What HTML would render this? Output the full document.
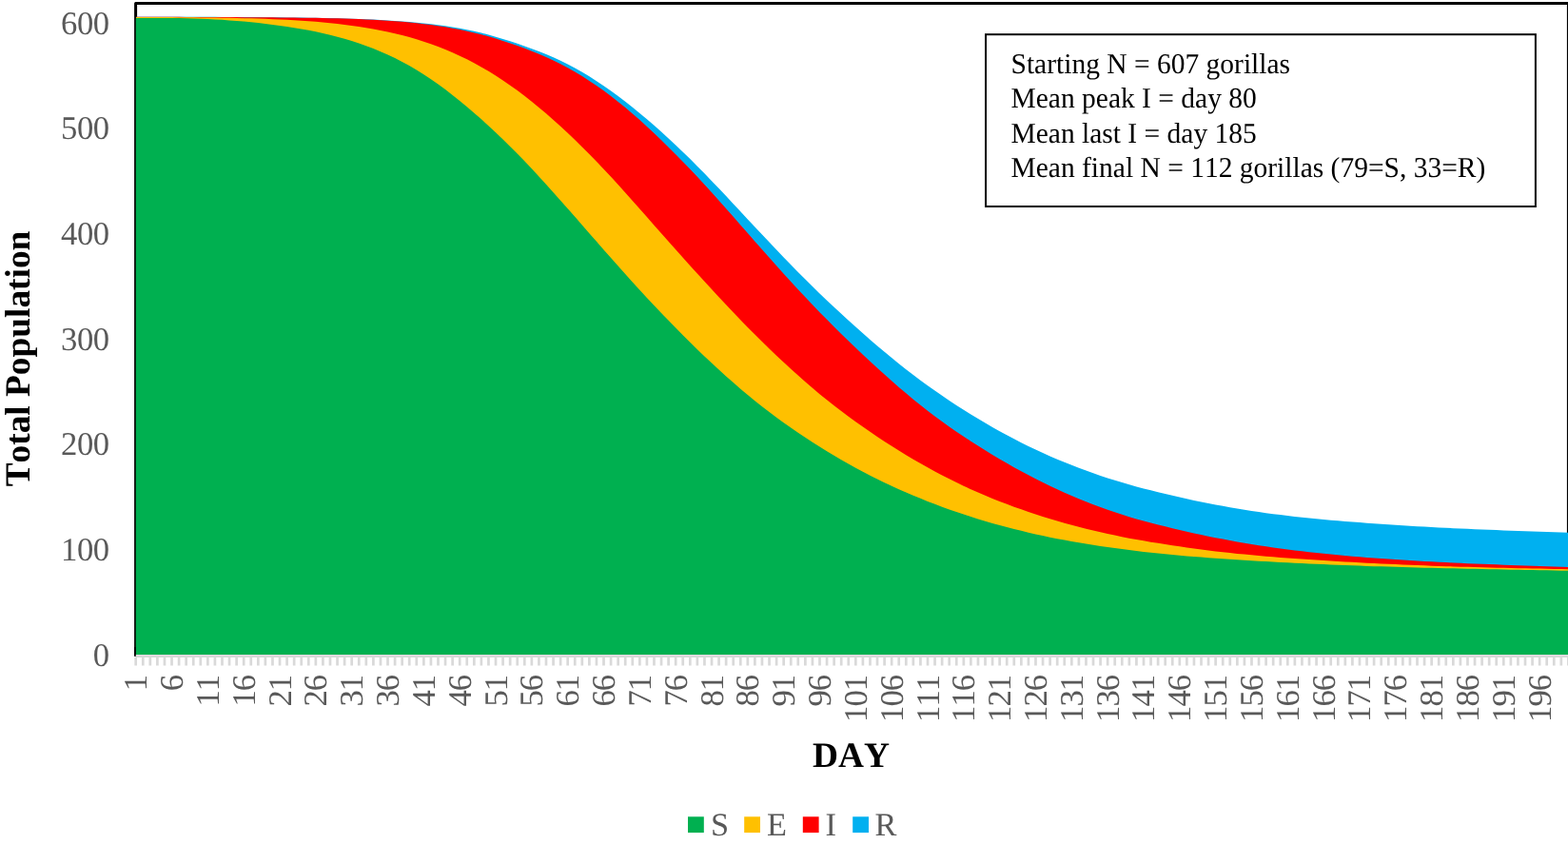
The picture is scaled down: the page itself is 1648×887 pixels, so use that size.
<!DOCTYPE html>
<html lang="en"><head><meta charset="utf-8"><title>SEIR gorilla population chart</title>
<style>html,body{margin:0;padding:0;background:#fff;overflow:hidden}svg{display:block}text{font-family:"Liberation Serif","Times New Roman",serif;font-kerning:none;text-rendering:geometricPrecision;}</style></head><body>
<svg width="1648" height="887" viewBox="0 0 1648 887">
<rect x="0" y="0" width="1648" height="887" fill="#fff"/>
<rect x="142.60" y="3.45" width="1505.80" height="684.85" fill="none" stroke="#000" stroke-width="3.00" stroke-linejoin="round"/>
<clipPath id="plotclip"><rect x="143.00" y="0" width="1520" height="700"/></clipPath>
<g clip-path="url(#plotclip)">
<path d="M139.7,688.9L139.7,17.79L142.70,17.79L150.27,17.79L157.83,17.79L165.40,17.78L172.97,17.78L180.53,17.79L188.10,17.79L195.66,17.80L203.23,17.81L210.80,17.83L218.36,17.85L225.93,17.87L233.50,17.90L241.06,17.94L248.63,17.98L256.19,18.02L263.76,18.07L271.33,18.12L278.89,18.18L286.46,18.24L294.03,18.31L301.59,18.38L309.16,18.46L316.73,18.54L324.29,18.64L331.86,18.75L339.42,18.88L346.99,19.04L354.56,19.21L362.12,19.42L369.69,19.65L377.26,19.92L384.82,20.23L392.39,20.58L399.96,20.97L407.52,21.40L415.09,21.89L422.65,22.44L430.22,23.06L437.79,23.74L445.35,24.50L452.92,25.34L460.49,26.28L468.05,27.32L475.62,28.48L483.18,29.77L490.75,31.21L498.32,32.81L505.88,34.58L513.45,36.52L521.02,38.63L528.58,40.88L536.15,43.27L543.72,45.78L551.28,48.41L558.85,51.16L566.41,54.04L573.98,57.09L581.55,60.34L589.11,63.81L596.68,67.53L604.25,71.52L611.81,75.79L619.38,80.34L626.95,85.15L634.51,90.21L642.08,95.51L649.64,101.04L657.21,106.79L664.78,112.75L672.34,118.90L679.91,125.25L687.48,131.79L695.04,138.51L702.61,145.41L710.17,152.48L717.74,159.72L725.31,167.12L732.87,174.67L740.44,182.35L748.01,190.16L755.57,198.08L763.14,206.11L770.71,214.22L778.27,222.34L785.84,230.45L793.40,238.53L800.97,246.58L808.54,254.59L816.10,262.55L823.67,270.43L831.24,278.24L838.80,285.95L846.37,293.55L853.94,301.03L861.50,308.39L869.07,315.64L876.63,322.78L884.20,329.81L891.77,336.74L899.33,343.57L906.90,350.30L914.47,356.92L922.03,363.42L929.60,369.79L937.16,376.05L944.73,382.17L952.30,388.15L959.86,393.99L967.43,399.68L975.00,405.22L982.56,410.62L990.13,415.87L997.70,420.98L1005.26,425.95L1012.83,430.80L1020.39,435.52L1027.96,440.12L1035.53,444.60L1043.09,448.96L1050.66,453.19L1058.23,457.30L1065.79,461.29L1073.36,465.15L1080.93,468.89L1088.49,472.51L1096.06,476.01L1103.62,479.39L1111.19,482.66L1118.76,485.80L1126.32,488.84L1133.89,491.76L1141.46,494.58L1149.02,497.29L1156.59,499.89L1164.15,502.39L1171.72,504.79L1179.29,507.08L1186.85,509.29L1194.42,511.39L1201.99,513.41L1209.55,515.34L1217.12,517.21L1224.69,519.04L1232.25,520.83L1239.82,522.56L1247.38,524.24L1254.95,525.88L1262.52,527.46L1270.08,528.98L1277.65,530.45L1285.22,531.87L1292.78,533.23L1300.35,534.52L1307.92,535.76L1315.48,536.94L1323.05,538.06L1330.61,539.13L1338.18,540.14L1345.75,541.11L1353.31,542.02L1360.88,542.89L1368.45,543.72L1376.01,544.51L1383.58,545.26L1391.14,545.97L1398.71,546.66L1406.28,547.31L1413.84,547.94L1421.41,548.54L1428.98,549.12L1436.54,549.68L1444.11,550.22L1451.68,550.75L1459.24,551.26L1466.81,551.76L1474.37,552.24L1481.94,552.70L1489.51,553.15L1497.07,553.58L1504.64,554.00L1512.21,554.40L1519.77,554.78L1527.34,555.15L1534.91,555.51L1542.47,555.85L1550.04,556.18L1557.60,556.49L1565.17,556.80L1572.74,557.10L1580.30,557.39L1587.87,557.68L1595.44,557.95L1603.00,558.23L1610.57,558.50L1618.13,558.76L1625.70,559.03L1633.27,559.29L1640.83,559.55L1648.40,559.81L1651.4,559.81L1651.4,688.9Z" fill="#00B0F0"/>
<path d="M139.7,688.9L139.7,17.80L142.70,17.80L150.27,17.81L157.83,17.82L165.40,17.83L172.97,17.84L180.53,17.86L188.10,17.87L195.66,17.89L203.23,17.91L210.80,17.93L218.36,17.96L225.93,17.98L233.50,18.01L241.06,18.05L248.63,18.09L256.19,18.13L263.76,18.17L271.33,18.23L278.89,18.28L286.46,18.34L294.03,18.41L301.59,18.48L309.16,18.56L316.73,18.65L324.29,18.75L331.86,18.86L339.42,19.00L346.99,19.16L354.56,19.35L362.12,19.57L369.69,19.82L377.26,20.11L384.82,20.44L392.39,20.82L399.96,21.24L407.52,21.71L415.09,22.24L422.65,22.84L430.22,23.52L437.79,24.28L445.35,25.14L452.92,26.09L460.49,27.16L468.05,28.34L475.62,29.65L483.18,31.10L490.75,32.68L498.32,34.41L505.88,36.30L513.45,38.34L521.02,40.54L528.58,42.88L536.15,45.38L543.72,48.01L551.28,50.79L558.85,53.72L566.41,56.81L573.98,60.09L581.55,63.58L589.11,67.30L596.68,71.28L604.25,75.53L611.81,80.07L619.38,84.89L626.95,89.99L634.51,95.36L642.08,101.00L649.64,106.90L657.21,113.06L664.78,119.47L672.34,126.11L679.91,132.97L687.48,140.03L695.04,147.27L702.61,154.68L710.17,162.24L717.74,169.93L725.31,177.78L732.87,185.77L740.44,193.92L748.01,202.23L755.57,210.69L763.14,219.25L770.71,227.86L778.27,236.48L785.84,245.10L793.40,253.71L800.97,262.30L808.54,270.86L816.10,279.36L823.67,287.78L831.24,296.09L838.80,304.28L846.37,312.35L853.94,320.30L861.50,328.14L869.07,335.87L876.63,343.50L884.20,351.00L891.77,358.36L899.33,365.58L906.90,372.69L914.47,379.72L922.03,386.69L929.60,393.56L937.16,400.32L944.73,406.92L952.30,413.35L959.86,419.63L967.43,425.73L975.00,431.67L982.56,437.43L990.13,443.01L997.70,448.42L1005.26,453.66L1012.83,458.75L1020.39,463.73L1027.96,468.59L1035.53,473.33L1043.09,477.96L1050.66,482.47L1058.23,486.87L1065.79,491.15L1073.36,495.30L1080.93,499.34L1088.49,503.26L1096.06,507.05L1103.62,510.73L1111.19,514.28L1118.76,517.70L1126.32,521.01L1133.89,524.19L1141.46,527.26L1149.02,530.20L1156.59,533.02L1164.15,535.73L1171.72,538.32L1179.29,540.79L1186.85,543.14L1194.42,545.38L1201.99,547.50L1209.55,549.52L1217.12,551.47L1224.69,553.37L1232.25,555.21L1239.82,557.00L1247.38,558.74L1254.95,560.43L1262.52,562.06L1270.08,563.63L1277.65,565.16L1285.22,566.62L1292.78,568.04L1300.35,569.40L1307.92,570.71L1315.48,571.96L1323.05,573.16L1330.61,574.30L1338.18,575.40L1345.75,576.45L1353.31,577.46L1360.88,578.42L1368.45,579.34L1376.01,580.22L1383.58,581.05L1391.14,581.85L1398.71,582.61L1406.28,583.34L1413.84,584.04L1421.41,584.70L1428.98,585.33L1436.54,585.94L1444.11,586.52L1451.68,587.07L1459.24,587.60L1466.81,588.10L1474.37,588.59L1481.94,589.05L1489.51,589.49L1497.07,589.92L1504.64,590.32L1512.21,590.71L1519.77,591.09L1527.34,591.45L1534.91,591.79L1542.47,592.13L1550.04,592.45L1557.60,592.76L1565.17,593.05L1572.74,593.34L1580.30,593.63L1587.87,593.90L1595.44,594.17L1603.00,594.43L1610.57,594.68L1618.13,594.93L1625.70,595.18L1633.27,595.42L1640.83,595.67L1648.40,595.91L1651.4,595.91L1651.4,688.9Z" fill="#FF0000"/>
<path d="M139.7,688.9L139.7,17.89L142.70,17.89L150.27,17.93L157.83,17.98L165.40,18.02L172.97,18.07L180.53,18.12L188.10,18.18L195.66,18.24L203.23,18.31L210.80,18.38L218.36,18.47L225.93,18.57L233.50,18.68L241.06,18.81L248.63,18.97L256.19,19.14L263.76,19.34L271.33,19.57L278.89,19.84L286.46,20.13L294.03,20.46L301.59,20.84L309.16,21.25L316.73,21.71L324.29,22.23L331.86,22.81L339.42,23.46L346.99,24.19L354.56,25.00L362.12,25.89L369.69,26.89L377.26,27.98L384.82,29.18L392.39,30.50L399.96,31.94L407.52,33.51L415.09,35.22L422.65,37.08L430.22,39.10L437.79,41.29L445.35,43.67L452.92,46.24L460.49,49.01L468.05,51.99L475.62,55.19L483.18,58.63L490.75,62.30L498.32,66.23L505.88,70.41L513.45,74.84L521.02,79.54L528.58,84.48L536.15,89.67L543.72,95.11L551.28,100.79L558.85,106.72L566.41,112.88L573.98,119.27L581.55,125.89L589.11,132.73L596.68,139.77L604.25,147.01L611.81,154.44L619.38,162.05L626.95,169.83L634.51,177.77L642.08,185.85L649.64,194.07L657.21,202.42L664.78,210.88L672.34,219.42L679.91,228.02L687.48,236.64L695.04,245.25L702.61,253.81L710.17,262.32L717.74,270.77L725.31,279.18L732.87,287.54L740.44,295.84L748.01,304.07L755.57,312.23L763.14,320.29L770.71,328.27L778.27,336.13L785.84,343.89L793.40,351.53L800.97,359.05L808.54,366.43L816.10,373.69L823.67,380.81L831.24,387.79L838.80,394.62L846.37,401.29L853.94,407.81L861.50,414.15L869.07,420.31L876.63,426.27L884.20,432.06L891.77,437.70L899.33,443.21L906.90,448.59L914.47,453.85L922.03,458.97L929.60,463.98L937.16,468.85L944.73,473.60L952.30,478.23L959.86,482.73L967.43,487.10L975.00,491.34L982.56,495.46L990.13,499.45L997.70,503.32L1005.26,507.06L1012.83,510.68L1020.39,514.17L1027.96,517.54L1035.53,520.79L1043.09,523.92L1050.66,526.94L1058.23,529.85L1065.79,532.65L1073.36,535.36L1080.93,537.97L1088.49,540.48L1096.06,542.90L1103.62,545.24L1111.19,547.49L1118.76,549.66L1126.32,551.74L1133.89,553.75L1141.46,555.68L1149.02,557.52L1156.59,559.29L1164.15,560.99L1171.72,562.61L1179.29,564.15L1186.85,565.63L1194.42,567.03L1201.99,568.36L1209.55,569.63L1217.12,570.86L1224.69,572.06L1232.25,573.22L1239.82,574.36L1247.38,575.45L1254.95,576.51L1262.52,577.52L1270.08,578.49L1277.65,579.41L1285.22,580.28L1292.78,581.11L1300.35,581.88L1307.92,582.61L1315.48,583.32L1323.05,584.00L1330.61,584.66L1338.18,585.29L1345.75,585.89L1353.31,586.47L1360.88,587.04L1368.45,587.58L1376.01,588.10L1383.58,588.60L1391.14,589.08L1398.71,589.54L1406.28,589.99L1413.84,590.42L1421.41,590.84L1428.98,591.25L1436.54,591.64L1444.11,592.02L1451.68,592.39L1459.24,592.74L1466.81,593.09L1474.37,593.42L1481.94,593.74L1489.51,594.05L1497.07,594.34L1504.64,594.63L1512.21,594.90L1519.77,595.15L1527.34,595.40L1534.91,595.63L1542.47,595.85L1550.04,596.06L1557.60,596.26L1565.17,596.46L1572.74,596.64L1580.30,596.82L1587.87,596.99L1595.44,597.16L1603.00,597.32L1610.57,597.47L1618.13,597.62L1625.70,597.77L1633.27,597.92L1640.83,598.06L1648.40,598.21L1651.4,598.21L1651.4,688.9Z" fill="#FFC000"/>
<path d="M139.7,688.9L139.7,18.91L142.70,18.91L150.27,18.90L157.83,18.90L165.40,18.91L172.97,18.94L180.53,19.01L188.10,19.11L195.66,19.26L203.23,19.46L210.80,19.72L218.36,20.04L225.93,20.42L233.50,20.87L241.06,21.38L248.63,21.95L256.19,22.60L263.76,23.32L271.33,24.11L278.89,24.97L286.46,25.91L294.03,26.92L301.59,28.02L309.16,29.20L316.73,30.48L324.29,31.86L331.86,33.36L339.42,34.99L346.99,36.77L354.56,38.70L362.12,40.80L369.69,43.07L377.26,45.53L384.82,48.20L392.39,51.08L399.96,54.19L407.52,57.53L415.09,61.12L422.65,64.98L430.22,69.10L437.79,73.51L445.35,78.21L452.92,83.21L460.49,88.52L468.05,94.10L475.62,99.93L483.18,105.98L490.75,112.22L498.32,118.65L505.88,125.28L513.45,132.13L521.02,139.18L528.58,146.43L536.15,153.88L543.72,161.52L551.28,169.35L558.85,177.35L566.41,185.50L573.98,193.78L581.55,202.17L589.11,210.66L596.68,219.22L604.25,227.84L611.81,236.49L619.38,245.15L626.95,253.81L634.51,262.45L642.08,271.06L649.64,279.61L657.21,288.09L664.78,296.49L672.34,304.79L679.91,312.97L687.48,321.04L695.04,329.00L702.61,336.86L710.17,344.61L717.74,352.26L725.31,359.78L732.87,367.18L740.44,374.46L748.01,381.59L755.57,388.58L763.14,395.43L770.71,402.11L778.27,408.64L785.84,414.99L793.40,421.17L800.97,427.17L808.54,433.00L816.10,438.67L823.67,444.18L831.24,449.55L838.80,454.78L846.37,459.87L853.94,464.81L861.50,469.62L869.07,474.30L876.63,478.84L884.20,483.25L891.77,487.54L899.33,491.70L906.90,495.73L914.47,499.65L922.03,503.45L929.60,507.13L937.16,510.69L944.73,514.15L952.30,517.49L959.86,520.73L967.43,523.86L975.00,526.89L982.56,529.82L990.13,532.65L997.70,535.38L1005.26,538.02L1012.83,540.57L1020.39,543.02L1027.96,545.39L1035.53,547.68L1043.09,549.88L1050.66,551.99L1058.23,554.03L1065.79,555.99L1073.36,557.87L1080.93,559.67L1088.49,561.40L1096.06,563.06L1103.62,564.64L1111.19,566.16L1118.76,567.61L1126.32,568.99L1133.89,570.32L1141.46,571.59L1149.02,572.79L1156.59,573.95L1164.15,575.05L1171.72,576.11L1179.29,577.12L1186.85,578.08L1194.42,579.01L1201.99,579.89L1209.55,580.74L1217.12,581.54L1224.69,582.31L1232.25,583.04L1239.82,583.73L1247.38,584.39L1254.95,585.02L1262.52,585.62L1270.08,586.19L1277.65,586.74L1285.22,587.27L1292.78,587.78L1300.35,588.27L1307.92,588.74L1315.48,589.21L1323.05,589.65L1330.61,590.09L1338.18,590.51L1345.75,590.92L1353.31,591.32L1360.88,591.70L1368.45,592.07L1376.01,592.43L1383.58,592.78L1391.14,593.12L1398.71,593.44L1406.28,593.75L1413.84,594.05L1421.41,594.34L1428.98,594.61L1436.54,594.88L1444.11,595.13L1451.68,595.37L1459.24,595.60L1466.81,595.83L1474.37,596.04L1481.94,596.25L1489.51,596.45L1497.07,596.64L1504.64,596.83L1512.21,597.01L1519.77,597.19L1527.34,597.36L1534.91,597.53L1542.47,597.70L1550.04,597.86L1557.60,598.03L1565.17,598.18L1572.74,598.34L1580.30,598.49L1587.87,598.64L1595.44,598.79L1603.00,598.94L1610.57,599.09L1618.13,599.23L1625.70,599.37L1633.27,599.52L1640.83,599.66L1648.40,599.80L1651.4,599.80L1651.4,688.9Z" fill="#00B050"/>
</g>
<rect x="142.75" y="19.41" width="0.26" height="669.49" fill="#00B050"/>
<rect x="141.10" y="680" width="1.65" height="9.70" fill="#000"/>
<rect x="142.75" y="688.00" width="1520" height="1.01" fill="#E7DDE3"/>
<rect x="142.75" y="689.00" width="1520" height="2.00" fill="#D9D9D9"/>
<path d="M142.70,690.50V699.40M150.27,690.50V699.40M157.83,690.50V699.40M165.40,690.50V699.40M172.97,690.50V699.40M180.53,690.50V699.40M188.10,690.50V699.40M195.66,690.50V699.40M203.23,690.50V699.40M210.80,690.50V699.40M218.36,690.50V699.40M225.93,690.50V699.40M233.50,690.50V699.40M241.06,690.50V699.40M248.63,690.50V699.40M256.19,690.50V699.40M263.76,690.50V699.40M271.33,690.50V699.40M278.89,690.50V699.40M286.46,690.50V699.40M294.03,690.50V699.40M301.59,690.50V699.40M309.16,690.50V699.40M316.73,690.50V699.40M324.29,690.50V699.40M331.86,690.50V699.40M339.42,690.50V699.40M346.99,690.50V699.40M354.56,690.50V699.40M362.12,690.50V699.40M369.69,690.50V699.40M377.26,690.50V699.40M384.82,690.50V699.40M392.39,690.50V699.40M399.96,690.50V699.40M407.52,690.50V699.40M415.09,690.50V699.40M422.65,690.50V699.40M430.22,690.50V699.40M437.79,690.50V699.40M445.35,690.50V699.40M452.92,690.50V699.40M460.49,690.50V699.40M468.05,690.50V699.40M475.62,690.50V699.40M483.18,690.50V699.40M490.75,690.50V699.40M498.32,690.50V699.40M505.88,690.50V699.40M513.45,690.50V699.40M521.02,690.50V699.40M528.58,690.50V699.40M536.15,690.50V699.40M543.72,690.50V699.40M551.28,690.50V699.40M558.85,690.50V699.40M566.41,690.50V699.40M573.98,690.50V699.40M581.55,690.50V699.40M589.11,690.50V699.40M596.68,690.50V699.40M604.25,690.50V699.40M611.81,690.50V699.40M619.38,690.50V699.40M626.95,690.50V699.40M634.51,690.50V699.40M642.08,690.50V699.40M649.64,690.50V699.40M657.21,690.50V699.40M664.78,690.50V699.40M672.34,690.50V699.40M679.91,690.50V699.40M687.48,690.50V699.40M695.04,690.50V699.40M702.61,690.50V699.40M710.17,690.50V699.40M717.74,690.50V699.40M725.31,690.50V699.40M732.87,690.50V699.40M740.44,690.50V699.40M748.01,690.50V699.40M755.57,690.50V699.40M763.14,690.50V699.40M770.71,690.50V699.40M778.27,690.50V699.40M785.84,690.50V699.40M793.40,690.50V699.40M800.97,690.50V699.40M808.54,690.50V699.40M816.10,690.50V699.40M823.67,690.50V699.40M831.24,690.50V699.40M838.80,690.50V699.40M846.37,690.50V699.40M853.94,690.50V699.40M861.50,690.50V699.40M869.07,690.50V699.40M876.63,690.50V699.40M884.20,690.50V699.40M891.77,690.50V699.40M899.33,690.50V699.40M906.90,690.50V699.40M914.47,690.50V699.40M922.03,690.50V699.40M929.60,690.50V699.40M937.16,690.50V699.40M944.73,690.50V699.40M952.30,690.50V699.40M959.86,690.50V699.40M967.43,690.50V699.40M975.00,690.50V699.40M982.56,690.50V699.40M990.13,690.50V699.40M997.70,690.50V699.40M1005.26,690.50V699.40M1012.83,690.50V699.40M1020.39,690.50V699.40M1027.96,690.50V699.40M1035.53,690.50V699.40M1043.09,690.50V699.40M1050.66,690.50V699.40M1058.23,690.50V699.40M1065.79,690.50V699.40M1073.36,690.50V699.40M1080.93,690.50V699.40M1088.49,690.50V699.40M1096.06,690.50V699.40M1103.62,690.50V699.40M1111.19,690.50V699.40M1118.76,690.50V699.40M1126.32,690.50V699.40M1133.89,690.50V699.40M1141.46,690.50V699.40M1149.02,690.50V699.40M1156.59,690.50V699.40M1164.15,690.50V699.40M1171.72,690.50V699.40M1179.29,690.50V699.40M1186.85,690.50V699.40M1194.42,690.50V699.40M1201.99,690.50V699.40M1209.55,690.50V699.40M1217.12,690.50V699.40M1224.69,690.50V699.40M1232.25,690.50V699.40M1239.82,690.50V699.40M1247.38,690.50V699.40M1254.95,690.50V699.40M1262.52,690.50V699.40M1270.08,690.50V699.40M1277.65,690.50V699.40M1285.22,690.50V699.40M1292.78,690.50V699.40M1300.35,690.50V699.40M1307.92,690.50V699.40M1315.48,690.50V699.40M1323.05,690.50V699.40M1330.61,690.50V699.40M1338.18,690.50V699.40M1345.75,690.50V699.40M1353.31,690.50V699.40M1360.88,690.50V699.40M1368.45,690.50V699.40M1376.01,690.50V699.40M1383.58,690.50V699.40M1391.14,690.50V699.40M1398.71,690.50V699.40M1406.28,690.50V699.40M1413.84,690.50V699.40M1421.41,690.50V699.40M1428.98,690.50V699.40M1436.54,690.50V699.40M1444.11,690.50V699.40M1451.68,690.50V699.40M1459.24,690.50V699.40M1466.81,690.50V699.40M1474.37,690.50V699.40M1481.94,690.50V699.40M1489.51,690.50V699.40M1497.07,690.50V699.40M1504.64,690.50V699.40M1512.21,690.50V699.40M1519.77,690.50V699.40M1527.34,690.50V699.40M1534.91,690.50V699.40M1542.47,690.50V699.40M1550.04,690.50V699.40M1557.60,690.50V699.40M1565.17,690.50V699.40M1572.74,690.50V699.40M1580.30,690.50V699.40M1587.87,690.50V699.40M1595.44,690.50V699.40M1603.00,690.50V699.40M1610.57,690.50V699.40M1618.13,690.50V699.40M1625.70,690.50V699.40M1633.27,690.50V699.40M1640.83,690.50V699.40M1648.40,690.50V699.40" stroke="#D9D9D9" stroke-width="2.70" fill="none"/>
<g font-size="34.67" fill="#595959" text-anchor="end" letter-spacing="-0.40">
<text transform="translate(114.80,699.80) scale(1.000,1)">0</text>
<text transform="translate(114.80,589.13) scale(1.000,1)">100</text>
<text transform="translate(114.80,478.47) scale(1.000,1)">200</text>
<text transform="translate(114.80,367.80) scale(1.000,1)">300</text>
<text transform="translate(114.80,257.13) scale(1.000,1)">400</text>
<text transform="translate(114.80,146.46) scale(1.000,1)">500</text>
<text transform="translate(114.80,35.80) scale(1.000,1)">600</text>
</g>
<g font-size="34.67" fill="#595959" text-anchor="end" letter-spacing="-1.00">
<text transform="translate(154.20,709.90) rotate(-90) scale(1.000,1)">1</text>
<text transform="translate(192.03,709.90) rotate(-90) scale(1.000,1)">6</text>
<text transform="translate(229.86,709.90) rotate(-90) scale(1.000,1)">11</text>
<text transform="translate(267.69,709.90) rotate(-90) scale(1.000,1)">16</text>
<text transform="translate(305.53,709.90) rotate(-90) scale(1.000,1)">21</text>
<text transform="translate(343.36,709.90) rotate(-90) scale(1.000,1)">26</text>
<text transform="translate(381.19,709.90) rotate(-90) scale(1.000,1)">31</text>
<text transform="translate(419.02,709.90) rotate(-90) scale(1.000,1)">36</text>
<text transform="translate(456.85,709.90) rotate(-90) scale(1.000,1)">41</text>
<text transform="translate(494.68,709.90) rotate(-90) scale(1.000,1)">46</text>
<text transform="translate(532.52,709.90) rotate(-90) scale(1.000,1)">51</text>
<text transform="translate(570.35,709.90) rotate(-90) scale(1.000,1)">56</text>
<text transform="translate(608.18,709.90) rotate(-90) scale(1.000,1)">61</text>
<text transform="translate(646.01,709.90) rotate(-90) scale(1.000,1)">66</text>
<text transform="translate(683.84,709.90) rotate(-90) scale(1.000,1)">71</text>
<text transform="translate(721.67,709.90) rotate(-90) scale(1.000,1)">76</text>
<text transform="translate(759.51,709.90) rotate(-90) scale(1.000,1)">81</text>
<text transform="translate(797.34,709.90) rotate(-90) scale(1.000,1)">86</text>
<text transform="translate(835.17,709.90) rotate(-90) scale(1.000,1)">91</text>
<text transform="translate(873.00,709.90) rotate(-90) scale(1.000,1)">96</text>
<text transform="translate(910.83,709.90) rotate(-90) scale(1.000,1)">101</text>
<text transform="translate(948.66,709.90) rotate(-90) scale(1.000,1)">106</text>
<text transform="translate(986.50,709.90) rotate(-90) scale(1.000,1)">111</text>
<text transform="translate(1024.33,709.90) rotate(-90) scale(1.000,1)">116</text>
<text transform="translate(1062.16,709.90) rotate(-90) scale(1.000,1)">121</text>
<text transform="translate(1099.99,709.90) rotate(-90) scale(1.000,1)">126</text>
<text transform="translate(1137.82,709.90) rotate(-90) scale(1.000,1)">131</text>
<text transform="translate(1175.65,709.90) rotate(-90) scale(1.000,1)">136</text>
<text transform="translate(1213.49,709.90) rotate(-90) scale(1.000,1)">141</text>
<text transform="translate(1251.32,709.90) rotate(-90) scale(1.000,1)">146</text>
<text transform="translate(1289.15,709.90) rotate(-90) scale(1.000,1)">151</text>
<text transform="translate(1326.98,709.90) rotate(-90) scale(1.000,1)">156</text>
<text transform="translate(1364.81,709.90) rotate(-90) scale(1.000,1)">161</text>
<text transform="translate(1402.64,709.90) rotate(-90) scale(1.000,1)">166</text>
<text transform="translate(1440.48,709.90) rotate(-90) scale(1.000,1)">171</text>
<text transform="translate(1478.31,709.90) rotate(-90) scale(1.000,1)">176</text>
<text transform="translate(1516.14,709.90) rotate(-90) scale(1.000,1)">181</text>
<text transform="translate(1553.97,709.90) rotate(-90) scale(1.000,1)">186</text>
<text transform="translate(1591.80,709.90) rotate(-90) scale(1.000,1)">191</text>
<text transform="translate(1629.63,709.90) rotate(-90) scale(1.000,1)">196</text>
</g>
<text transform="translate(31.40,377.00) rotate(-90)" font-size="37.33" font-weight="bold" fill="#000" text-anchor="middle">Total Population</text>
<text x="894.50" y="806.00" font-size="37.33" font-weight="bold" fill="#000" text-anchor="middle">DAY</text>
<rect x="723.00" y="858.30" width="16.80" height="16.80" fill="#00B050"/>
<text x="747.00" y="877.60" font-size="34.30" fill="#595959">S</text>
<rect x="782.20" y="858.30" width="16.80" height="16.80" fill="#FFC000"/>
<text x="806.00" y="877.60" font-size="34.30" fill="#595959">E</text>
<rect x="843.80" y="858.30" width="16.80" height="16.80" fill="#FF0000"/>
<text x="867.50" y="877.60" font-size="34.30" fill="#595959">I</text>
<rect x="896.20" y="858.30" width="16.80" height="16.80" fill="#00B0F0"/>
<text x="919.50" y="877.60" font-size="34.30" fill="#595959">R</text>
<rect x="1036.05" y="36.20" width="577.85" height="180.80" fill="#fff" stroke="#000" stroke-width="2.00"/>
<g font-size="30.30" fill="#000" xml:space="preserve">
<text transform="translate(1062.50,77.30) scale(0.9736,1)">Starting N = 607 gorillas</text>
<text transform="translate(1062.50,112.70) scale(0.9736,1)">Mean peak I = day 80</text>
<text transform="translate(1062.50,150.00) scale(0.9736,1)">Mean last I = day 185</text>
<text transform="translate(1062.50,185.80) scale(0.9736,1)">Mean final N = 112 gorillas (79=S, 33=R)</text>
</g>
</svg></body></html>
